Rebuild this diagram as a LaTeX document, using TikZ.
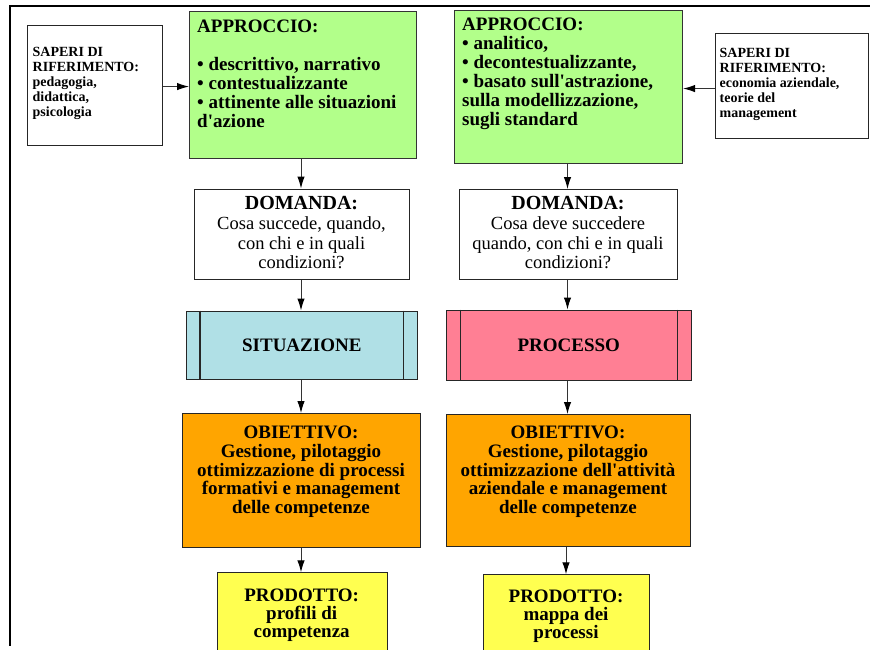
\documentclass[tikz,border=0pt]{standalone}
\usepackage{fontspec}
\setmainfont{Liberation Serif}[Ligatures=TeXOff]
\usetikzlibrary{arrows.meta}

\definecolor{approachgreen}{RGB}{178,255,138}
\definecolor{situationblue}{RGB}{176,224,230}
\definecolor{processpink}{RGB}{255,127,148}
\definecolor{goalorange}{RGB}{255,165,0}
\definecolor{productyellow}{RGB}{255,255,80}

\begin{document}
\begin{tikzpicture}[x=1pt,y=-1pt,
  box/.style={draw=black!85, line width=1.1pt, rectangle, inner sep=0pt, anchor=north west},
  boxline/.style={draw=black!85, line width=1.1pt},
  bigbold/.style={inner sep=0pt, font=\fontsize{19}{19}\selectfont\bfseries},
  smallbold/.style={inner sep=0pt, align=left, anchor=north west,
    font=\fontsize{14}{15}\selectfont\bfseries},
  question/.style={inner sep=0pt, anchor=north, align=center,
    font=\fontsize{18.5}{19.8}\selectfont},
  arr/.style={draw=black!80, line width=1pt, -{Latex[length=12pt,width=7.5pt,black]}},
]
\useasboundingbox (0,0) rectangle (870,649);
\clip (0,0) rectangle (870,649);

% frame
\draw[line width=2.6pt, line join=miter] (10,645.5) -- (10,6) -- (872,6);

% column axes for the vertical connectors
\coordinate (cL) at (301,0);
\coordinate (cR) at (567.5,0);
\coordinate (cR2) at (566,0);

% ---------- left column ----------
\node[box, fill=white, minimum width=135pt, minimum height=120pt] (sapL) at (27,25) {};
\node[smallbold] (sapLtxt) at (32.5,47.4)
  {SAPERI DI\\RIFERIMENTO:\\pedagogia,\\didattica,\\psicologia};

\node[box, draw=black!80, fill=approachgreen, minimum width=227pt, minimum height=147pt] (appL) at (189,11) {};
\node[bigbold, anchor=north west, align=left] (appLtxt) at (197,20)
  {APPROCCIO:\\[19pt]• descrittivo, narrativo\\• contestualizzante\\• attinente alle situazioni\\d'azione};

\node[box, fill=white, minimum width=215pt, minimum height=90pt] (domL) at (194,188.5) {};
\node[question] (domLtxt) at (301.5,196)
  {{\fontsize{20}{19.8}\selectfont\bfseries DOMANDA:}\\Cosa succede, quando,\\con chi e in quali\\condizioni?};

\node[box, fill=situationblue, minimum width=230.5pt, minimum height=68pt,
  font=\fontsize{19}{19}\selectfont\bfseries] (sit) at (186,310.5) {SITUAZIONE};
\draw[boxline] ([xshift=14pt]sit.north west) -- ([xshift=14pt]sit.south west);
\draw[boxline] ([xshift=-14pt]sit.north east) -- ([xshift=-14pt]sit.south east);

\node[box, fill=goalorange, minimum width=238pt, minimum height=134pt] (obL) at (182,413) {};
\node[bigbold, anchor=north, align=center, font=\fontsize{19}{18.8}\selectfont\bfseries] (obLtxt) at (301,425.7)
  {OBIETTIVO:\\Gestione, pilotaggio\\ottimizzazione di processi\\formativi e management\\delle competenze};

\node[box, fill=productyellow, minimum width=170pt, minimum height=100pt] (prodL) at (217,572.3) {};
\node[bigbold, anchor=north, align=center, font=\fontsize{19}{18}\selectfont\bfseries] (prodLtxt) at (301.7,588.5)
  {PRODOTTO:\\profili di\\competenza};

% ---------- right column ----------
\node[box, fill=white, minimum width=152.5pt, minimum height=105pt] (sapR) at (715,32.5) {};
\node[smallbold] (sapRtxt) at (719.5,47.8)
  {SAPERI DI\\RIFERIMENTO:\\economia aziendale,\\teorie del\\management};

\node[box, draw=black!80, fill=approachgreen, minimum width=228pt, minimum height=153pt] (appR) at (454,10) {};
\node[bigbold, anchor=north west, align=left] (appRtxt) at (462,18)
  {APPROCCIO:\\• analitico,\\• decontestualizzante,\\• basato sull'astrazione,\\sulla modellizzazione,\\sugli standard};

\node[box, fill=white, minimum width=218pt, minimum height=89.5pt] (domR) at (459,189) {};
\node[question] (domRtxt) at (568,196)
  {{\fontsize{20}{19.8}\selectfont\bfseries DOMANDA:}\\Cosa deve succedere\\quando, con chi e in quali\\condizioni?};

\node[box, fill=processpink, minimum width=244.5pt, minimum height=70pt,
  font=\fontsize{19}{19}\selectfont\bfseries] (proc) at (446,309.5) {PROCESSO};
\draw[boxline] ([xshift=14.5pt]proc.north west) -- ([xshift=14.5pt]proc.south west);
\draw[boxline] ([xshift=-14.5pt]proc.north east) -- ([xshift=-14.5pt]proc.south east);

\node[box, fill=goalorange, minimum width=244.5pt, minimum height=132pt] (obR) at (445.5,414) {};
\node[bigbold, anchor=north, align=center, font=\fontsize{19}{18.8}\selectfont\bfseries] (obRtxt) at (568,425.7)
  {OBIETTIVO:\\Gestione, pilotaggio\\ottimizzazione dell'attività\\aziendale e management\\delle competenze};

\node[box, fill=productyellow, minimum width=165.7pt, minimum height=100pt] (prodR) at (483.3,574.3) {};
\node[bigbold, anchor=north, align=center, font=\fontsize{19}{18}\selectfont\bfseries] (prodRtxt) at (566,589.5)
  {PRODOTTO:\\mappa dei\\processi};

% ---------- connectors ----------
\draw[arr] ([yshift=-1pt]sapL.east) -- ([yshift=-1pt]sapL.east -| appL.west);
\draw[arr] ([yshift=-3pt]sapR.west) -- ([yshift=-3pt]sapR.west -| appR.east);

\draw[arr] (appL.south -| cL) -- (domL.north -| cL);
\draw[arr] (domL.south -| cL) -- (sit.north -| cL);
\draw[arr] (sit.south -| cL) -- (obL.north -| cL);
\draw[arr] (obL.south -| cL) -- (prodL.north -| cL);

\draw[arr] (appR.south -| cR) -- (domR.north -| cR);
\draw[arr] (domR.south -| cR) -- (proc.north -| cR);
\draw[arr] (proc.south -| cR) -- (obR.north -| cR);
\draw[arr] (obR.south -| cR2) -- (prodR.north -| cR2);
\end{tikzpicture}
\end{document}
